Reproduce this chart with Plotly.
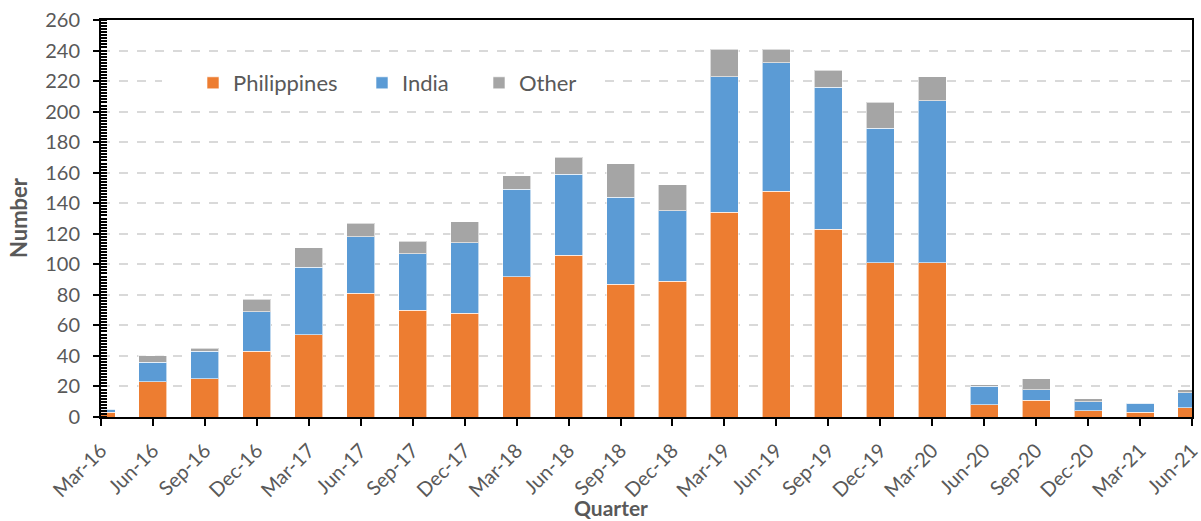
import plotly.graph_objects as go

quarters = ["Mar-16", "Jun-16", "Sep-16", "Dec-16", "Mar-17", "Jun-17", "Sep-17", "Dec-17",
            "Mar-18", "Jun-18", "Sep-18", "Dec-18", "Mar-19", "Jun-19", "Sep-19", "Dec-19",
            "Mar-20", "Jun-20", "Sep-20", "Dec-20", "Mar-21", "Jun-21"]
philippines = [3, 23, 25, 43, 54, 81, 70, 68, 92, 106, 87, 89, 134, 148, 123, 101, 101, 8, 11, 4, 3, 6]
india = [2, 13, 18, 26, 44, 37, 37, 46, 57, 53, 57, 46, 89, 84, 93, 88, 106, 12, 7, 6, 6, 10]
other = [0, 4, 2, 8, 13, 9, 8, 14, 9, 11, 22, 17, 18, 9, 11, 17, 16, 1, 7, 2, 0, 2]

xpos = list(range(len(quarters)))
font_family = "Lato, Open Sans, sans-serif"
gray_txt = "#595959"

# plot area in pixels
L, R, T, B = 101, 1192, 20, 417
PW, PH = R - L, B - T

series = [("Philippines", philippines, "#ED7D31", "legend", 193),
          ("India", india, "#5B9BD5", "legend2", 362),
          ("Other", other, "#A5A5A5", "legend3", 479)]

fig = go.Figure()
for name, vals, col, lg, _ in series:
    fig.add_trace(go.Bar(x=xpos, y=vals, name=name, width=0.54, legend=lg, showlegend=True,
                         marker=dict(color=col, line=dict(color="rgba(255,255,255,0.6)", width=1))))

legend_common = dict(orientation="h", y=(B - 83) / PH, xanchor="left", yanchor="middle",
                     bgcolor="rgba(0,0,0,0)", font=dict(size=22, color=gray_txt), itemwidth=30,
                     visible=True)
layout_legends = {}
for name, vals, col, lg, px in series:
    layout_legends[lg] = dict(legend_common, x=(px - L) / PW)

fig.update_layout(
    barmode="stack",
    showlegend=True,
    width=1201, height=521,
    margin=dict(l=L, r=1201 - R, t=T, b=521 - B),
    plot_bgcolor="white", paper_bgcolor="white",
    font=dict(family=font_family, size=20, color=gray_txt),
    xaxis=dict(range=[-1e-4, 21 + 1e-4], tickmode="array", tickvals=xpos, ticktext=quarters,
               tickangle=-45, ticks="outside", ticklen=7, tickwidth=2, tickcolor="black",
               tickfont=dict(size=20), ticklabeloverflow="allow", ticklabelstandoff=5,
               showline=True, linecolor="black", linewidth=2, mirror=True,
               showgrid=False, zeroline=False, automargin=False),
    yaxis=dict(range=[0, 260], tickmode="linear", tick0=0, dtick=20,
               ticks="outside", ticklen=6, tickwidth=2, tickcolor="black",
               tickfont=dict(size=20), ticklabelstandoff=9,
               showline=True, linecolor="black", linewidth=2, mirror=True,
               showgrid=True, gridcolor="#D9D9D9", griddash="dash", gridwidth=1.5,
               zeroline=False, automargin=False,
               minor=dict(dtick=2, ticks="inside", ticklen=6, tickwidth=1.5, tickcolor="black", showgrid=False)),
    shapes=[dict(type="rect", xref="paper", yref="paper", layer="above",
                 x0=(162 - L) / PW, x1=(605 - L) / PW, y0=(B - 96) / PH, y1=(B - 70) / PH,
                 fillcolor="white", line=dict(width=0))],
    annotations=[
        dict(text="<b>Quarter</b>", xref="paper", yref="paper", x=(611 - L) / PW, y=-(507 - B) / PH,
             xanchor="center", yanchor="middle", showarrow=False, font=dict(size=21, color=gray_txt)),
        dict(text="<b>Number</b>", xref="paper", yref="paper", x=-(L - 19) / PW, y=(B - 218) / PH,
             xanchor="center", yanchor="middle", textangle=-90, showarrow=False,
             font=dict(size=22, color=gray_txt)),
    ],
    **layout_legends,
)

fig.write_html("out.html")
